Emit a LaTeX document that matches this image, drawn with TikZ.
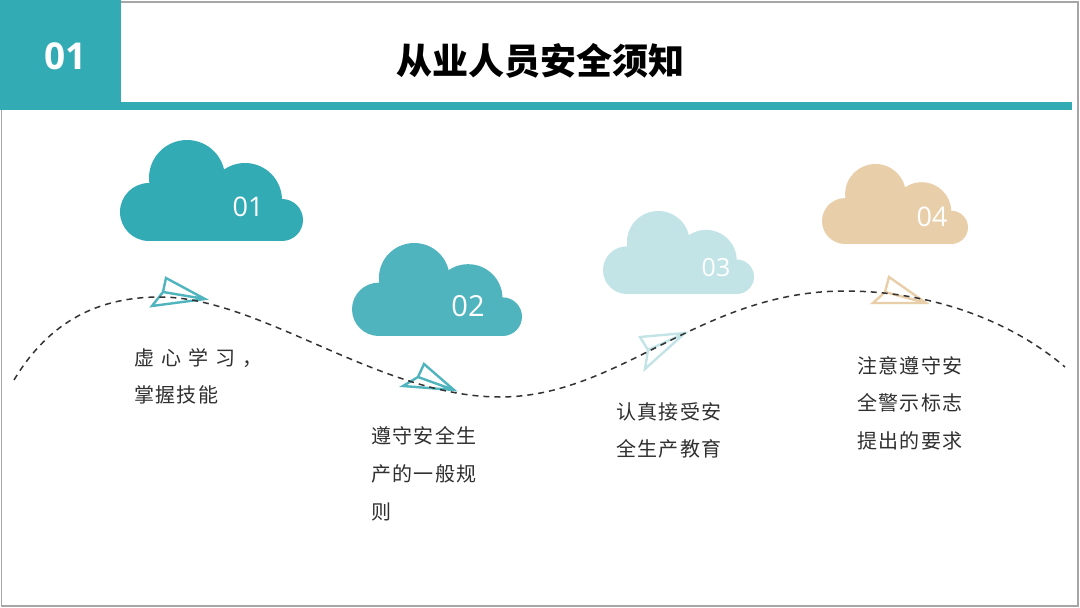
\documentclass[tikz,border=0pt]{standalone}
\usepackage{fontspec}
\setmainfont{Noto Sans CJK SC}
\newfontfamily\numfont{Open Sans}
\definecolor{teal1}{HTML}{33ABB5}
\definecolor{teal2}{HTML}{50B4BE}
\definecolor{teal3}{HTML}{C3E4E6}
\definecolor{sand}{HTML}{E8CFA9}
\definecolor{ink}{HTML}{303030}
\newcommand{\cloudshape}[5]{% x, y, w, h, colour
  \begin{scope}[shift={(#1,#2)},xscale=#3/183,yscale=#4/101]
    \fill[#5] (29,72) circle[radius=29];
    \fill[#5] (67,38) circle[radius=38];
    \fill[#5] (125,60) circle[radius=37];
    \fill[#5] (162,80) circle[radius=21];
    \fill[#5] (29,50) rectangle (125,72);
    \fill[#5] (29,72) rectangle (162,101);
  \end{scope}}
\tikzset{
  bodytext/.style={anchor=west,text=ink,inner sep=0pt,font=\fontsize{20}{20}\selectfont\addfontfeature{LetterSpace=7}},
  cloudnum/.style={text=white,inner sep=0pt},
  planeline/.style={line width=2.4pt,line join=miter,fill=none},
  routeline/.style={line width=1.5pt,draw=black!80,dash pattern=on 6pt off 5pt},
}
\begin{document}
\begin{tikzpicture}[x=1pt,y=-1pt]
\useasboundingbox (0,0) rectangle (1080,608);
\fill[white] (0,0) rectangle (1080,608);
\draw[gray!70,line width=1.5pt] (1.5,2) rectangle (1078,606);
\fill[teal1] (0,0) rectangle (121,110);
\fill[teal1] (121,102) rectangle (1072,110);
\node[text=white,inner sep=0pt,font=\numfont\bfseries\fontsize{37}{37}\selectfont] (hnum) at (65.5,56) {01};
\node[text=black,inner sep=0pt,font=\bfseries\fontsize{36}{36}\selectfont] (title) at (540,61) {从业人员安全须知};
\cloudshape{120}{140}{183}{101}{teal1}
\cloudshape{352}{243}{170}{93}{teal2}
\cloudshape{603}{211}{151}{83}{teal3}
\cloudshape{822}{164}{146}{80}{sand}
\node[cloudnum,font=\numfont\fontsize{27}{27}\selectfont] (n1) at (248,207) {01};
\node[cloudnum,font=\numfont\fontsize{29}{29}\selectfont] (n2) at (468,306) {02};
\node[cloudnum,font=\numfont\fontsize{25}{25}\selectfont] (n3) at (716,268) {03};
\node[cloudnum,font=\numfont\fontsize{27}{27}\selectfont] (n4) at (932,217) {04};
% paper planes
\draw[planeline,draw=teal2] (166,278) -- (205,299) -- (152,306) -- (163,292) -- cycle (163,292) -- (205,299);
\draw[planeline,draw=teal2] (424,364) -- (454,390) -- (403,386) -- (418,377) -- cycle (418,377) -- (454,390);
\draw[planeline,draw=teal3] (640,337) -- (685,333) -- (645,369) -- (648,350) -- cycle (648,350) -- (685,333);
\draw[planeline,draw=sand] (889,277) -- (926,303) -- (873,303) -- (885,292) -- cycle (885,292) -- (926,303);
% route
\draw[routeline] (14,380) .. controls (50,320) and (100,297) .. (160,297)
  .. controls (260,297) and (380,397) .. (500,397)
  .. controls (620,397) and (700,291) .. (845,291)
  .. controls (930,291) and (1010,320) .. (1065,367);
% labels
\node[bodytext,font=\fontsize{20}{20}\selectfont\addfontfeature{LetterSpace=35}] (t1a) at (134,358) {虚心学习，};
\node[bodytext] (t1b) at (134,395) {掌握技能};
\node[bodytext] (t2a) at (371,436) {遵守安全生};
\node[bodytext] (t2b) at (371,474) {产的一般规};
\node[bodytext] (t2c) at (371,512) {则};
\node[bodytext] (t3a) at (616,412) {认真接受安};
\node[bodytext] (t3b) at (616,449) {全生产教育};
\node[bodytext] (t4a) at (857,366) {注意遵守安};
\node[bodytext] (t4b) at (857,403) {全警示标志};
\node[bodytext] (t4c) at (857,441) {提出的要求};
\end{tikzpicture}
\end{document}
